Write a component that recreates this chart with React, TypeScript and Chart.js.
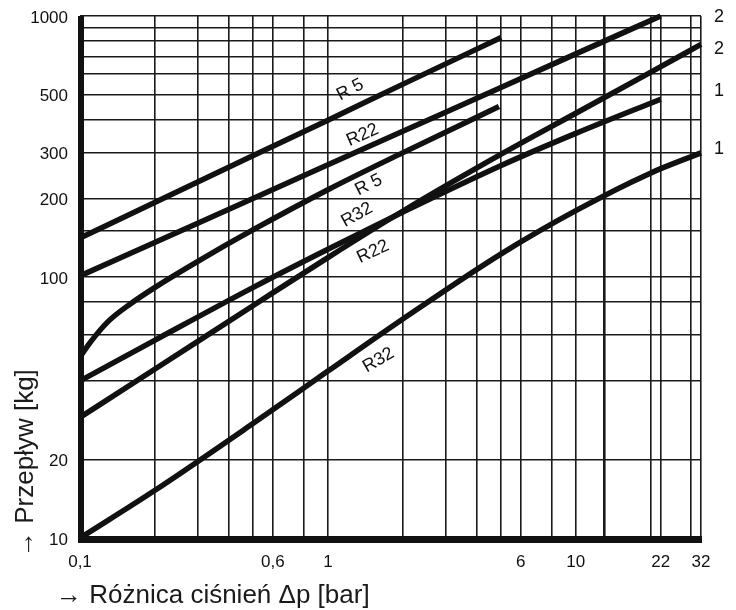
import React, { useEffect, useRef } from "react";
import { Chart, registerables } from "chart.js";

Chart.register(...registerables);

// ---- data ----
const r5UpperX = [0.1, 0.2, 0.5, 1, 2, 5];
const r5UpperY = [141, 193, 292, 399, 547, 827];

const r22UpperX = [0.1, 0.3, 1, 3, 10, 22];
const r22UpperY = [101, 161, 269, 429, 716, 1000];

const r5LowerX = [0.1, 0.11, 0.13, 0.16, 0.2, 0.3, 0.5, 1, 2, 4.9];
const r5LowerY = [49.4, 56.2, 67.6, 79, 91.1, 115.1, 151.8, 216, 299, 450];

const r32MidX = [0.1, 0.2, 0.5, 1, 2, 5, 10, 22];
const r32MidY = [40, 57.2, 91.3, 127.8, 177, 267.4, 355, 480];

const r22LowerX = [0.1, 0.2, 0.5, 1, 2, 5, 10, 20, 32];
const r22LowerY = [29, 44.3, 77.8, 118.7, 178.6, 295.6, 424, 608, 778];

const r32LowerX = [0.1, 0.2, 0.5, 1, 2, 5, 10, 20, 32];
const r32LowerY = [10, 15.2, 27.5, 43.6, 68.9, 122.7, 179.6, 250, 299];

// grid / tick values
const xGridValues = [0.1, 0.2, 0.3, 0.4, 0.5, 0.6, 0.8, 1, 2, 3, 4, 5, 6, 8, 10, 13, 20, 22, 29, 32];
const xTickLabelValues = [0.1, 0.6, 1, 6, 10, 22, 32];
const xTickLabelTexts = ["0,1", "0,6", "1", "6", "10", "22", "32"];
const xHeavyGrid = [13];

const yGridValues = [10, 20, 40, 60, 80, 100, 150, 200, 300, 400, 500, 600, 700, 800, 900, 1000];
const yTickLabelValues = [10, 20, 100, 200, 300, 500, 1000];
const yTickLabelTexts = ["10", "20", "100", "200", "300", "500", "1000"];

// curve annotations
const curveLabelTexts = ["R 5", "R22", "R 5", "R32", "R22", "R32"];
const curveLabelX = [1.23, 1.38, 1.46, 1.31, 1.52, 1.6];
const curveLabelY = [521, 350, 225, 173, 125, 48];
const curveLabelAngle = [-28, -24, -27, -29, -25, -30];

const rightLabelTexts = ["2", "2", "1", "1"];
const rightLabelY = [994, 746, 517, 309];

const xTitle = "\u2192 Różnica ciśnień \u0394p [bar]";
const yTitle = "\u2192 Przepływ [kg]";

const FONT = "'Liberation Sans', Arial, Helvetica, sans-serif";
const INK = "#111111";
const GRID = "#1a1a1a";

const series = [
  [r5UpperX, r5UpperY],
  [r22UpperX, r22UpperY],
  [r5LowerX, r5LowerY],
  [r32MidX, r32MidY],
  [r22LowerX, r22LowerY],
  [r32LowerX, r32LowerY],
];
const seriesNames = ["R 5 (1)", "R22 (1)", "R 5 (2)", "R32 (1)", "R22 (2)", "R32 (2)"];

function findLabel(values: number[], texts: string[], v: number): string {
  for (let i = 0; i < values.length; i++) {
    if (Math.abs(values[i] - v) < 1e-9 * Math.max(1, v)) return texts[i];
  }
  return "";
}

const overlayPlugin = {
  id: "overlay",
  beforeDatasetsDraw(chart: any) {
    const { ctx, chartArea: ca } = chart;
    ctx.save();
    ctx.fillStyle = INK;
    // thick left and bottom frame
    ctx.fillRect(ca.left - 2, ca.top, 6, ca.bottom - ca.top + 5);
    ctx.fillRect(ca.left - 2, ca.bottom - 2, ca.right - ca.left + 3, 7);
    ctx.restore();
  },
  afterDatasetsDraw(chart: any) {
    const { ctx, chartArea: ca } = chart;
    const xs = chart.scales.x;
    const ys = chart.scales.y;
    ctx.save();
    ctx.fillStyle = INK;
    ctx.font = `18px ${FONT}`;
    ctx.textAlign = "center";
    ctx.textBaseline = "middle";
    for (let i = 0; i < curveLabelTexts.length; i++) {
      const px = xs.getPixelForValue(curveLabelX[i]);
      const py = ys.getPixelForValue(curveLabelY[i]);
      ctx.save();
      ctx.translate(px, py);
      ctx.rotate((curveLabelAngle[i] * Math.PI) / 180);
      ctx.fillText(curveLabelTexts[i], 0, 0);
      ctx.restore();
    }
    ctx.font = `18px ${FONT}`;
    for (let i = 0; i < rightLabelTexts.length; i++) {
      const py = ys.getPixelForValue(rightLabelY[i]);
      ctx.fillText(rightLabelTexts[i], ca.right + 18, py);
    }
    ctx.restore();
  },
  afterDraw(chart: any) {
    const { ctx } = chart;
    ctx.save();
    ctx.fillStyle = "#1a1a1a";
    ctx.font = `26px ${FONT}`;
    ctx.textAlign = "left";
    ctx.textBaseline = "alphabetic";
    ctx.fillText(xTitle, 56, 603);
    ctx.translate(33, 557);
    ctx.rotate(-Math.PI / 2);
    ctx.fillText(yTitle, 0, 0);
    ctx.restore();
  },
};

export default function App() {
  const canvasRef = useRef<HTMLCanvasElement | null>(null);

  useEffect(() => {
    const canvas = canvasRef.current;
    if (!canvas) return;
    const datasets = series.map(([xs, ys], i) => ({
      label: seriesNames[i],
      data: xs.map((x, j) => ({ x, y: ys[j] })),
      borderColor: INK,
      backgroundColor: INK,
      borderWidth: 5.5,
      borderCapStyle: "butt" as const,
      pointRadius: 0,
      pointHoverRadius: 0,
      fill: false,
      cubicInterpolationMode: "monotone" as const,
      clip: false as any,
    }));

    const chart = new Chart(canvas, {
      type: "line",
      data: { datasets },
      options: {
        animation: false,
        responsive: false,
        devicePixelRatio: 1,
        events: [],
        layout: { padding: { top: 16, right: 35, left: 0, bottom: 0 } },
        plugins: {
          legend: { display: false },
          tooltip: { enabled: false },
          title: { display: false },
        },
        scales: {
          x: {
            type: "logarithmic",
            min: 0.1,
            max: 32,
            afterBuildTicks: (s: any) => {
              s.ticks = xGridValues.map((v) => ({ value: v }));
            },
            afterFit: (s: any) => {
              s.height = 72;
              s.paddingLeft = 0;
              s.paddingRight = 0;
            },
            ticks: {
              autoSkip: false,
              maxRotation: 0,
              minRotation: 0,
              padding: 14,
              color: INK,
              font: { family: FONT, size: 17 },
              callback: (v: any) => findLabel(xTickLabelValues, xTickLabelTexts, Number(v)),
            },
            grid: {
              color: GRID,
              lineWidth: (c: any) =>
                c.tick && xHeavyGrid.includes(c.tick.value) ? 2.6 : 1.6,
              drawTicks: false,
            },
            border: { display: false },
          },
          y: {
            type: "logarithmic",
            min: 10,
            max: 1000,
            afterBuildTicks: (s: any) => {
              s.ticks = yGridValues.map((v) => ({ value: v }));
            },
            afterFit: (s: any) => {
              s.width = 80;
              s.paddingTop = 0;
              s.paddingBottom = 0;
            },
            ticks: {
              autoSkip: false,
              padding: 12,
              labelOffset: 2,
              color: INK,
              font: { family: FONT, size: 17 },
              callback: (v: any) => findLabel(yTickLabelValues, yTickLabelTexts, Number(v)),
            },
            grid: {
              color: GRID,
              lineWidth: 1.6,
              drawTicks: false,
            },
            border: { display: false },
          },
        },
      },
      plugins: [overlayPlugin],
    });

    return () => {
      chart.destroy();
    };
  }, []);

  return (
    <div style={{ position: "fixed", left: 0, top: 0, width: 736, height: 610, background: "#fff" }}>
      <canvas ref={canvasRef} width={736} height={610} style={{ display: "block" }} />
    </div>
  );
}
